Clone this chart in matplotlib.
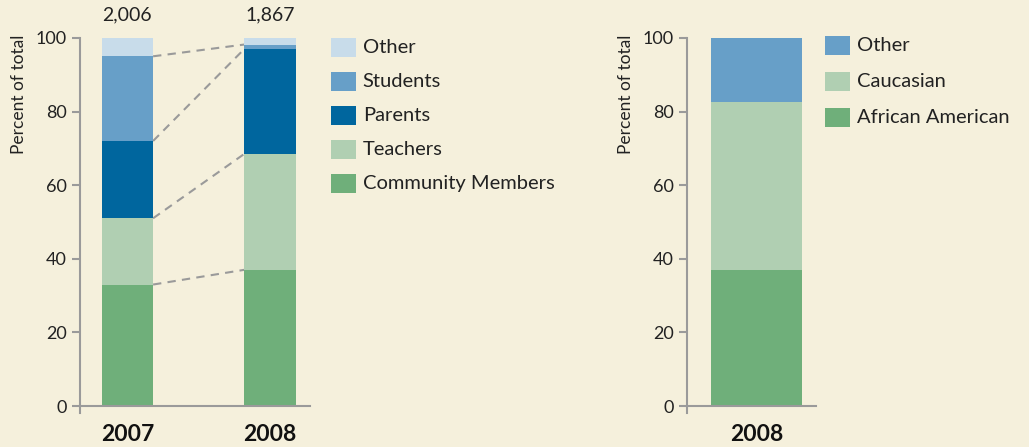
import matplotlib
matplotlib.use('Agg')
import matplotlib.pyplot as plt
from matplotlib.patches import Rectangle
import numpy as np

plt.rcParams.update({'font.family': ['Lato', 'DejaVu Sans'], 'font.size': 12})

BG = '#f5f0dc'
AXC = '#9a9a9a'
TXT = '#222222'

# left chart: respondents by role
years = ['2007', '2008']
totals = ['2,006', '1,867']
roles = ['Community Members', 'Teachers', 'Parents', 'Students', 'Other']
role_vals = {
    'Community Members': [33, 37],
    'Teachers': [18, 31.5],
    'Parents': [21, 28.5],
    'Students': [23, 1.2],
    'Other': [5, 1.8],
}
role_colors = ['#6faf7a', '#b0cfb2', '#00669e', '#679fc8', '#c8dcea']

# right chart: race/ethnicity
race_year = ['2008']
races = ['African American', 'Caucasian', 'Other']
race_vals = {'African American': [37], 'Caucasian': [45.5], 'Other': [17.5]}
race_colors = ['#6faf7a', '#b0cfb2', '#679fc8']

fig = plt.figure(figsize=(10.29, 4.47), dpi=100, facecolor=BG)


def style_axis(ax, lab_x):
    ax.set_facecolor(BG)
    ax.set_ylim(-2, 100)
    ax.set_yticks([0, 20, 40, 60, 80, 100])
    for s in ['top', 'right']:
        ax.spines[s].set_visible(False)
    ax.spines['left'].set_color(AXC)
    ax.spines['bottom'].set_color(AXC)
    ax.spines['left'].set_linewidth(1.5)
    ax.spines['bottom'].set_linewidth(1.5)
    ax.spines['bottom'].set_position(('data', 0))
    ax.tick_params(axis='y', colors=AXC, labelcolor=TXT, labelsize=13, length=6, width=1.5)
    ax.tick_params(axis='x', length=0, labelsize=16.5, labelcolor='#111111', pad=13)
    for lb in ax.get_xticklabels():
        lb.set_fontweight('bold')
    fig.text(lab_x, 0.922, 'Percent of total', rotation=90, fontsize=12.5, color=TXT,
             ha='center', va='top')


def legend(x0, y0, dy, labels, colors):
    for i, (lab, c) in enumerate(zip(labels, colors)):
        y = y0 - i * dy
        fig.patches.append(Rectangle((x0, y - 0.021), 0.0245, 0.042, transform=fig.transFigure,
                                     facecolor=c, edgecolor='none'))
        fig.text(x0 + 0.031, y, lab, fontsize=14.5, color=TXT, va='center', ha='left')


# ---- left panel
ax1 = fig.add_axes([0.0777, 0.0752, 0.2235, 0.840])
x = np.arange(len(years))
w = 0.36
bottom = np.zeros(len(years))
tops = []
for r, c in zip(roles, role_colors):
    v = np.array(role_vals[r])
    ax1.bar(x, v, w, bottom=bottom, color=c, zorder=2)
    bottom = bottom + v
    tops.append(bottom.copy())
for t in tops[:-1]:
    ax1.plot([x[0] + w / 2, x[1] - w / 2], [t[0], t[1]], ls=(0, (4, 3)), color='#9a9a9a', lw=1.5, zorder=1)
ax1.set_xlim(-0.333, 1.28)
ax1.set_xticks(x)
ax1.set_xticklabels(years)
style_axis(ax1, 0.0185)
for xi, t in zip(x, totals):
    ax1.text(xi, 104, t, ha='center', va='bottom', fontsize=14, color=TXT, clip_on=False)

legend(0.3215, 0.893, 0.076, roles[::-1], role_colors[::-1])

# ---- right panel
ax2 = fig.add_axes([0.6673, 0.0752, 0.1257, 0.840])
xr = np.arange(len(race_year))
bottom = np.zeros(len(race_year))
for r, c in zip(races, race_colors):
    v = np.array(race_vals[r])
    ax2.bar(xr, v, 0.7, bottom=bottom, color=c, zorder=2)
    bottom = bottom + v
ax2.set_xlim(-0.54, 0.46)
ax2.set_xticks(xr)
ax2.set_xticklabels(race_year)
style_axis(ax2, 0.6085)

legend(0.8017, 0.899, 0.081, races[::-1], race_colors[::-1])

fig.savefig('out.png', dpi=100, facecolor=BG)
